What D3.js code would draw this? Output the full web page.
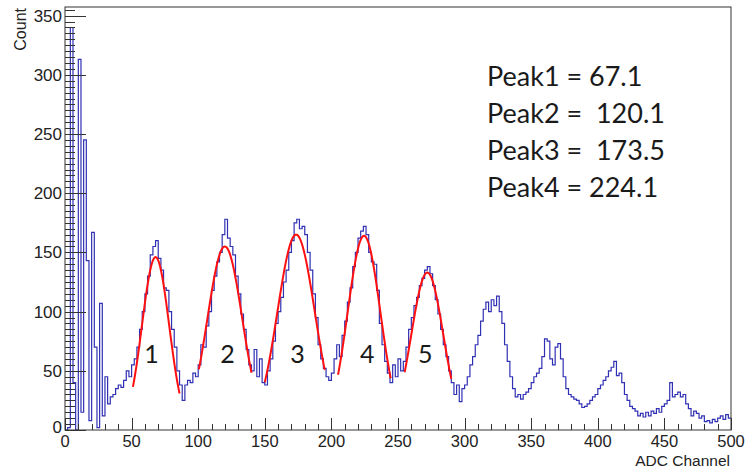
<!DOCTYPE html>
<html>
<head>
<meta charset="utf-8">
<script src="https://cdn.jsdelivr.net/npm/d3@7"></script>
<style>
  html, body { margin: 0; padding: 0; background: #fff; }
  svg { display: block; }
</style>
</head>
<body>
<svg id="chart" width="746" height="469"></svg>
<script>
// ---- data ----
const binWidth = 2; // ADC channels per bin
const counts0 = [0,2,340,40,0,313,15,245,143,8,167,70,2,107,12,45,22,28,30,35,38,36,42,50,45];
const counts1 = [55,60,70,85,100,115,130,148,155,160,145,135,120,118,100,85,70,50,38,25,38,42,40,48,45];
const counts2 = [55,72,70,88,100,118,130,142,150,165,178,162,155,148,130,115,98,85,68,55,50,68,45,60,40];
const counts3 = [38,50,60,75,90,100,112,125,135,150,160,175,178,170,172,165,150,135,115,95,72,60,52,45,42];
const counts4 = [48,60,72,62,80,92,108,120,138,150,162,168,172,165,150,142,140,118,90,72,58,48,40,55,45];
const counts5 = [60,50,58,70,85,95,105,112,122,128,135,138,132,122,110,98,85,72,62,50,40,30,38,24,35];
const counts6 = [38,45,55,62,72,80,92,102,108,100,110,105,113,100,90,72,58,45,35,28,30,26,30,32,35];
const counts7 = [40,45,48,52,62,77,75,60,55,70,73,60,45,35,30,28,26,25,22,19,20,22,25,28,30];
const counts8 = [35,38,42,45,50,53,58,46,48,40,30,25,20,18,16,12,14,11,15,12,16,14,18,15,20];
const counts9 = [22,25,40,28,30,32,28,30,22,18,12,16,14,10,12,7,8,6,9,7,10,12,9,13,10];
const counts = [].concat(counts0,counts1,counts2,counts3,counts4,counts5,counts6,counts7,counts8,counts9);

// Gaussian fits (red)
const fitMean  = [68, 120, 173.5, 224.5, 272];
const fitSigma = [10.2, 13.1, 14, 12.3, 12];
const fitAmp   = [146, 155, 165, 164, 133];
const fitLo    = [51, 100.5, 150, 205, 255];
const fitHi    = [86, 140, 195, 244.5, 290];
const fitLabels = ["1","2","3","4","5"];
const fitLabelCh = [65, 122, 174.5, 227, 270.5];

const peakNames  = ["Peak1", "Peak2", "Peak3", "Peak4"];
const peakValues = ["67.1", " 120.1", " 173.5", "224.1"];

const xTicks = [0,50,100,150,200,250,300,350,400,450,500];
const yTicks = [0,50,100,150,200,250,300,350];

// ---- layout ----
const svg = d3.select("#chart");
const L = 65, R = 731, T = 7, B = 430;
const x = d3.scaleLinear().domain([0, 500]).range([L, R]);
const y = d3.scaleLinear().domain([0, 357.3]).range([B, T]);

// histogram step line
const pts = counts.map((c, i) => [i * binWidth, c]);
pts.push([counts.length * binWidth, counts[counts.length - 1]]);
svg.append("path")
  .datum(pts)
  .attr("fill", "none")
  .attr("stroke", "#3030b4")
  .attr("stroke-width", 1.2)
  .attr("d", d3.line().x(d => x(d[0])).y(d => y(d[1])).curve(d3.curveStepAfter));

// fits
fitMean.forEach((m, i) => {
  const s = fitSigma[i], a = fitAmp[i];
  const xs = d3.range(fitLo[i], fitHi[i] + 0.001, 0.5);
  svg.append("path")
    .datum(xs)
    .attr("fill", "none")
    .attr("stroke", "#ff1010")
    .attr("stroke-width", 2)
    .attr("d", d3.line().x(d => x(d)).y(d => y(a * Math.exp(-((d - m) ** 2) / (2 * s * s)))));
});

// frame
svg.append("rect")
  .attr("x", L).attr("y", T).attr("width", R - L).attr("height", B - T)
  .attr("fill", "none").attr("stroke", "#333").attr("stroke-width", 1);

// y ticks (inside, ROOT style)
const yMinor = d3.range(0, 357, 5);
svg.append("g").selectAll("line").data(yMinor).join("line")
  .attr("x1", L).attr("x2", d => (d % 50 === 0) ? L + 21 : L + 10)
  .attr("y1", d => Math.round(y(d)) + 0.5).attr("y2", d => Math.round(y(d)) + 0.5)
  .attr("stroke", "#333").attr("stroke-width", 1);
svg.append("g").selectAll("text").data(yTicks).join("text")
  .attr("x", L - 3).attr("y", d => d === 0 ? y(d) + 3 : y(d) + 6)
  .attr("text-anchor", "end")
  .attr("font-family", "Liberation Sans, Arial, sans-serif")
  .attr("font-size", 17).attr("fill", "#222")
  .text(d => d);

// x ticks
const xMinor = d3.range(0, 501, 10);
svg.append("g").selectAll("line").data(xMinor).join("line")
  .attr("x1", d => Math.round(x(d)) + 0.5).attr("x2", d => Math.round(x(d)) + 0.5)
  .attr("y1", B).attr("y2", d => (d % 50 === 0) ? B - 12 : B - 6)
  .attr("stroke", "#333").attr("stroke-width", 1);
svg.append("g").selectAll("text").data(xTicks).join("text")
  .attr("x", d => x(d)).attr("y", 446.5)
  .attr("text-anchor", "middle")
  .attr("font-family", "Liberation Sans, Arial, sans-serif")
  .attr("font-size", 16.5).attr("fill", "#222")
  .text(d => d);

// axis titles
svg.append("text")
  .attr("transform", "translate(26,8) rotate(-90)")
  .attr("text-anchor", "end")
  .attr("font-family", "Liberation Sans, Arial, sans-serif")
  .attr("font-size", 16).attr("fill", "#222")
  .text("Count");
svg.append("text")
  .attr("x", 730).attr("y", 465.5)
  .attr("text-anchor", "end")
  .attr("font-family", "Liberation Sans, Arial, sans-serif")
  .attr("font-size", 15.5).attr("fill", "#222")
  .text("ADC Channel");

// fit labels
svg.append("g").selectAll("text").data(fitLabels).join("text")
  .attr("x", (d, i) => x(fitLabelCh[i]))
  .attr("y", y(57))
  .attr("text-anchor", "middle")
  .attr("font-family", "Lato, sans-serif")
  .attr("font-size", 25).attr("fill", "#1a1a1a")
  .text(d => d);

// peak annotations
svg.append("g").selectAll("text").data(peakNames).join("text")
  .attr("x", 487).attr("y", (d, i) => 86 + i * 37)
  .attr("font-family", "Lato, sans-serif")
  .attr("font-size", 27).attr("fill", "#1a1a1a")
  .style("white-space", "pre")
  .text((d, i) => d + " = " + peakValues[i]);
</script>
</body>
</html>
